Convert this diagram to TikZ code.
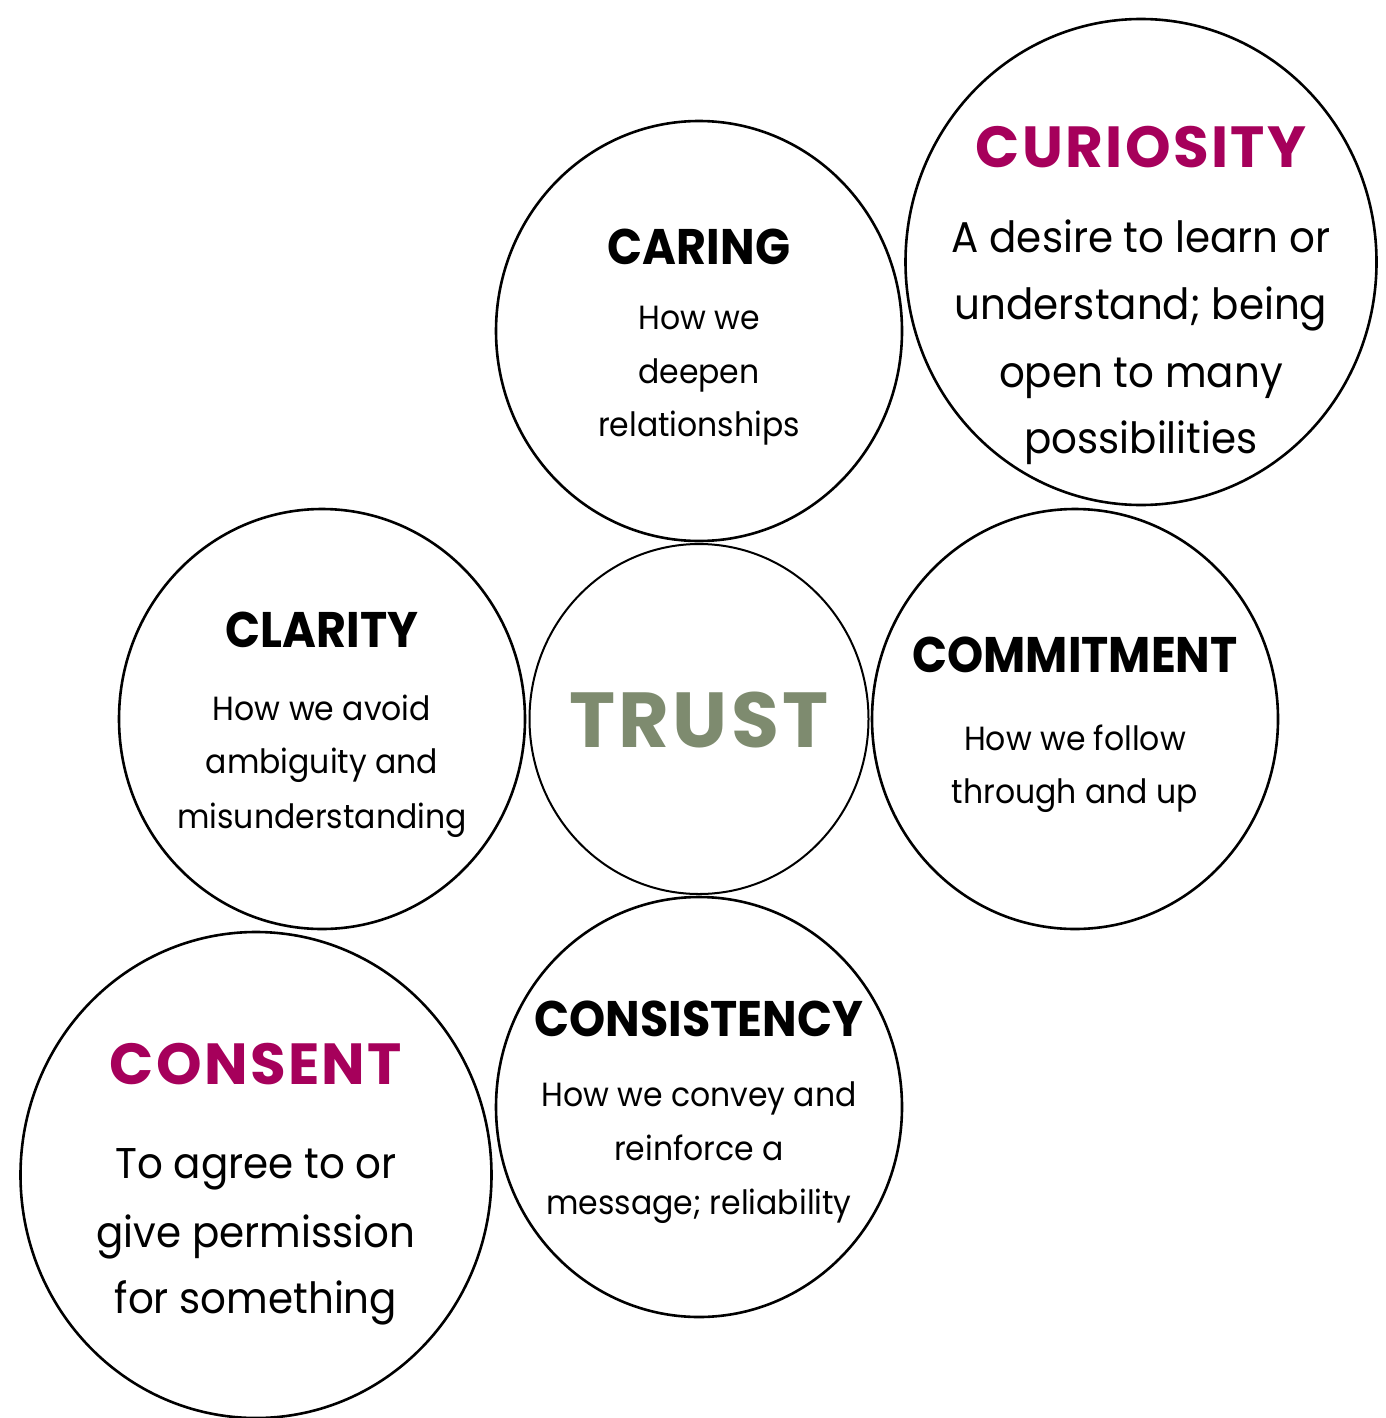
\documentclass[tikz,border=0pt]{standalone}
\usepackage{fontspec}
\setmainfont{Poppins}
% tight bold for the small titles, tracked bold for the large ones
\newfontfamily\headfont{Poppins}[UprightFont=* Bold, FakeStretch=0.92]
\newfontfamily\wideheadfont{Poppins}[UprightFont=* Bold, LetterSpace=4]
\newfontfamily\bodyfont{Poppins}[FakeStretch=0.94]
\usetikzlibrary{shapes.geometric}
\definecolor{berry}{HTML}{A6005B}
\definecolor{sage}{HTML}{7E8B6F}
\begin{document}
\begin{tikzpicture}[x=1pt,y=-1pt,
  ring/.style={draw=black, line width=2.6pt, ellipse, inner sep=0pt, outer sep=0pt},
  smallring/.style={ring, minimum width=406pt, minimum height=420pt},
  largering/.style={ring, minimum width=471pt, minimum height=486pt},
  head/.style={anchor=base, inner sep=0pt, font=\headfont\fontsize{50}{50}\selectfont},
  bighead/.style={head, text=berry, font=\wideheadfont\fontsize{58}{58}\selectfont},
  body/.style={anchor=base, inner sep=0pt, font=\bodyfont\fontsize{33.5}{33.5}\selectfont},
  bigbody/.style={body, font=\bodyfont\fontsize{43}{43}\selectfont},
]
% canvas
\fill[white] (0,0) rectangle (1385,1418);
\useasboundingbox (0,0) rectangle (1385,1418);

% circles
\node[smallring] (caring) at (699,331) {};
\node[largering] (curiosity) at (1141,262) {};
\node[smallring] (clarity) at (322,719) {};
\node[ring, line width=2pt, minimum width=339pt, minimum height=350pt] (trust) at (699,719) {};
\node[smallring] (commitment) at (1075,719) {};
\node[smallring] (consistency) at (699,1107) {};
\node[largering] (consent) at (256,1175) {};

% CARING
\node[head] (caring-h) at (699,264) {CARING};
\node[body] (caring-1) at (699,329) {How we};
\node[body] (caring-2) at (699,383) {deepen};
\node[body] (caring-3) at (699,436) {relationships};

% CURIOSITY
\node[bighead] (curiosity-h) at (1141,167) {CURIOSITY};
\node[bigbody] (curiosity-1) at (1141,252) {A desire to learn or};
\node[bigbody] (curiosity-2) at (1141,319) {understand; being};
\node[bigbody] (curiosity-3) at (1141,387) {open to many};
\node[bigbody] (curiosity-4) at (1141,453) {possibilities};

% CLARITY
\node[head] (clarity-h) at (322,647) {CLARITY};
\node[body] (clarity-1) at (322,720) {How we avoid};
\node[body] (clarity-2) at (322,773) {ambiguity and};
\node[body] (clarity-3) at (322,828) {misunderstanding};

% TRUST
\node[head, text=sage, font=\wideheadfont\fontsize{78}{78}\selectfont] (trust-h) at (699,747) {TRUST};

% COMMITMENT
\node[head] (commitment-h) at (1075,672) {COMMITMENT};
\node[body] (commitment-1) at (1075,750) {How we follow};
\node[body] (commitment-2) at (1075,803) {through and up};

% CONSISTENCY
\node[head] (consistency-h) at (699,1036) {CONSISTENCY};
\node[body] (consistency-1) at (699,1106) {How we convey and};
\node[body] (consistency-2) at (699,1160) {reinforce a};
\node[body] (consistency-3) at (699,1214) {message; reliability};

% CONSENT
\node[bighead] (consent-h) at (256,1084) {CONSENT};
\node[bigbody] (consent-1) at (256,1178) {To agree to or};
\node[bigbody] (consent-2) at (256,1247) {give permission};
\node[bigbody] (consent-3) at (256,1313) {for something};
\end{tikzpicture}
\end{document}
